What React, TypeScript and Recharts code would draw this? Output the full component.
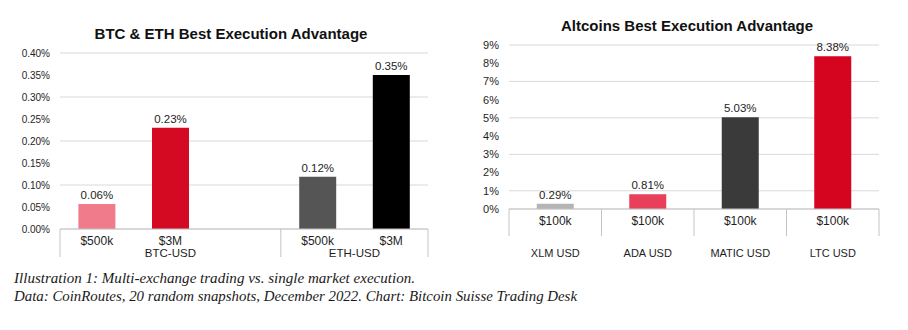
import { BarChart, Bar, XAxis, YAxis, CartesianGrid, Cell, LabelList } from 'recharts'

// left chart: BTC & ETH, blank slot between the two groups
const BTC_SIZES = ['$500k', '$3M', '', '$500k', '$3M']
const BTC_GROUPS = ['BTC-USD', 'BTC-USD', 'BTC-USD', 'ETH-USD', 'ETH-USD']
const BTC_VALUES = [0.057, 0.23, null, 0.119, 0.35]
const BTC_COLORS = ['#EF7B8B', '#D40A22', '#ffffff', '#555555', '#000000']
const BTC_TICKS = [0, 0.05, 0.1, 0.15, 0.2, 0.25, 0.3, 0.35, 0.4]

// right chart: altcoins
const ALT_COINS = ['XLM USD', 'ADA USD', 'MATIC USD', 'LTC USD']
const ALT_SIZES = ['$100k', '$100k', '$100k', '$100k']
const ALT_VALUES = [0.29, 0.81, 5.03, 8.38]
const ALT_COLORS = ['#B4B4B4', '#E8405A', '#3A3A3A', '#D6051F']
const ALT_TICKS = [0, 1, 2, 3, 4, 5, 6, 7, 8, 9]

const btcData = BTC_SIZES.map((s, i) => ({ id: String(i), size: s, group: BTC_GROUPS[i], value: BTC_VALUES[i] }))
const altData = ALT_COINS.map((c, i) => ({ coin: c, size: ALT_SIZES[i], value: ALT_VALUES[i] }))

const FONT = '"Liberation Sans", Arial, sans-serif'
const INK = '#1e1e1e'
const GRID = '#d9d9d9'
const AXIS = '#c4c4c4'

const pct2 = (v: any) => (v == null ? '' : `${Number(v).toFixed(2)}%`)

function BtcTick(props: any) {
  const { x, y, payload } = props
  const i = props.index ?? payload.index
  const half = payload.offset
  const grp = BTC_GROUPS[i]
  const first = i === 0 || BTC_GROUPS[i - 1] !== grp
  const last = i === BTC_GROUPS.length - 1
  const count = BTC_GROUPS.filter((g) => g === grp).length
  const left = x - half
  return (
    <g fontFamily={FONT} fill={INK}>
      <text x={x} y={y + 12} textAnchor="middle" dominantBaseline="central" fontSize={12} fill={INK}>{BTC_SIZES[i]}</text>
      {first && <line x1={left} x2={left} y1={y} y2={y + 28} stroke={AXIS} />}
      {first && <text x={left + count * half} y={y + 24} textAnchor="middle" dominantBaseline="central" fontSize={11.5} fill={INK}>{grp}</text>}
      {last && <line x1={x + half} x2={x + half} y1={y} y2={y + 28} stroke={AXIS} />}
    </g>
  )
}

function AltTick(props: any) {
  const { x, y, payload } = props
  const i = props.index ?? payload.index
  const half = payload.offset
  return (
    <g>
      <line x1={x - half} x2={x - half} y1={y} y2={y + 27} stroke={AXIS} />
      {i === ALT_COINS.length - 1 && <line x1={x + half} x2={x + half} y1={y} y2={y + 27} stroke={AXIS} />}
      <text x={x} y={y + 12} textAnchor="middle" dominantBaseline="central" fontSize={12} fontFamily={FONT} fill={INK}>{ALT_SIZES[i]}</text>
      <text x={x} y={y + 44} textAnchor="middle" dominantBaseline="central" fontSize={11} fontFamily={FONT} fill={INK}>{ALT_COINS[i]}</text>
    </g>
  )
}

const titleStyle = (cx: number, cy: number): React.CSSProperties => ({
  position: 'absolute', left: cx - 200, top: cy - 10, width: 400, textAlign: 'center',
  fontFamily: FONT, fontWeight: 700, fontSize: 15, lineHeight: '20px', color: '#111',
})

export default function App() {
  return (
    <div style={{ position: 'absolute', left: 0, top: 0, width: 908, height: 330, background: '#fff', fontFamily: FONT }}>
      <div style={titleStyle(231, 34)}>BTC &amp; ETH Best Execution Advantage</div>
      <div style={titleStyle(687, 26)}>Altcoins Best Execution Advantage</div>

      <div style={{ position: 'absolute', left: 0, top: 0 }}>
        <BarChart width={450} height={270} data={btcData} margin={{ top: 53, right: 22, left: 10, bottom: 0 }} barCategoryGap="25%">
          <CartesianGrid vertical={false} stroke={GRID} />
          <XAxis dataKey="id" height={41} interval={0} tickSize={0} tickMargin={0} tickLine={false} axisLine={{ stroke: AXIS }} tick={<BtcTick />} />
          <YAxis width={50} domain={[0, 0.4]} ticks={BTC_TICKS} tickFormatter={pct2} axisLine={false} tickLine={false} tickMargin={4} tick={{ fontSize: 10, fill: INK, fontFamily: FONT }} />
          <Bar dataKey="value" isAnimationActive={false}>
            {btcData.map((d, i) => <Cell key={d.id} fill={BTC_COLORS[i]} />)}
            <LabelList dataKey="value" position="top" offset={5} formatter={pct2} style={{ fontSize: 11.5, fill: INK, fontFamily: FONT }} />
          </Bar>
        </BarChart>
      </div>

      <div style={{ position: 'absolute', left: 450, top: 0 }}>
        <BarChart width={458} height={270} data={altData} margin={{ top: 45, right: 29, left: 10, bottom: 0 }} barCategoryGap="30%">
          <CartesianGrid vertical={false} stroke={GRID} />
          <XAxis dataKey="coin" height={61} interval={0} tickSize={0} tickMargin={0} tickLine={false} axisLine={{ stroke: AXIS }} tick={<AltTick />} />
          <YAxis width={49} domain={[0, 9]} ticks={ALT_TICKS} tickFormatter={(v: any) => `${v}%`} axisLine={false} tickLine={false} tickMargin={4} tick={{ fontSize: 11, fill: INK, fontFamily: FONT }} />
          <Bar dataKey="value" isAnimationActive={false}>
            {altData.map((d, i) => <Cell key={d.coin} fill={ALT_COLORS[i]} />)}
            <LabelList dataKey="value" position="top" offset={5} formatter={pct2} style={{ fontSize: 11.5, fill: INK, fontFamily: FONT }} />
          </Bar>
        </BarChart>
      </div>

      <svg width={908} height={60} style={{ position: 'absolute', left: 0, top: 265 }}>
        <g fontFamily='"Liberation Serif", "Times New Roman", serif' fontStyle="italic" fontSize={15} fill="#1a1a1a">
          <text x={14} y={18} textLength={401} lengthAdjust="spacingAndGlyphs">Illustration 1: Multi-exchange trading vs. single market execution.</text>
          <text x={14} y={36} textLength={563} lengthAdjust="spacingAndGlyphs">Data: CoinRoutes, 20 random snapshots, December 2022. Chart: Bitcoin Suisse Trading Desk</text>
        </g>
      </svg>
    </div>
  )
}
